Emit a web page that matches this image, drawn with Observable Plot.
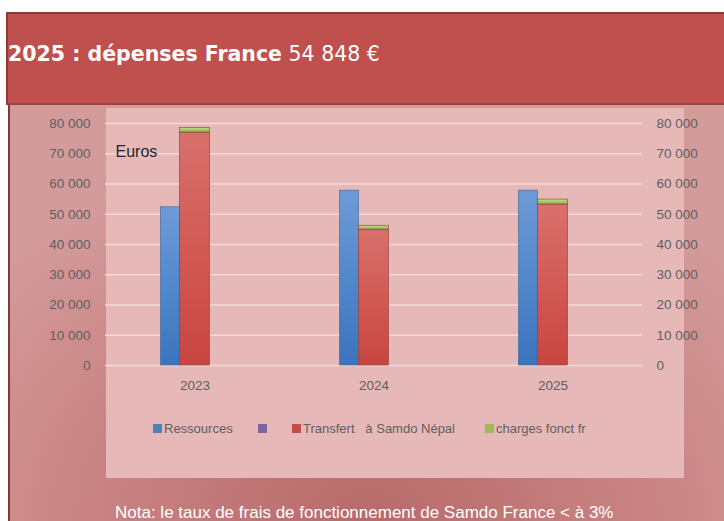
<!DOCTYPE html>
<html>
<head>
<meta charset="utf-8">
<script src="https://cdn.jsdelivr.net/npm/d3@7"></script>
<script src="https://cdn.jsdelivr.net/npm/@observablehq/plot@0.6"></script>
<style>
  html, body { margin: 0; padding: 0; background: #ffffff; }
  #stage { position: relative; width: 724px; height: 521px; overflow: hidden; background: #ffffff; font-family: "Liberation Sans", Arial, sans-serif; }
  #bg { position: absolute; left: 8px; top: 100px; width: 716px; height: 421px;
        border-left: 2px solid #7c3c3c;
        background: radial-gradient(ellipse 70% 90% at 50% 100%, #b86a6a 0%, #c98383 55%, #d49b9b 100%); }
  #header { position: absolute; left: 6px; top: 12px; width: 718px; height: 89px; background: #c0504d;
            border-top: 2px solid #8c3b39; border-left: 2px solid #8c3b39; border-bottom: 2px solid #9e4340; }
  #title { position: absolute; left: 8px; top: 42px; color: #ffffff; font-family: "DejaVu Sans", sans-serif; font-size: 20.5px; white-space: pre; }
  #title b { font-weight: bold; }
  #panel { position: absolute; left: 106px; top: 108px; width: 578px; height: 370px; background: #e6b8b7; }
  #chart { position: absolute; left: 0; top: 103px; }
  #legend { position: absolute; top: 419px; left: 0; width: 724px; height: 20px; font-size: 13px; color: #5f5f5f; }
  .li { position: absolute; top: 0; white-space: pre; line-height: 20px; }
  .sw { position: absolute; top: 5px; width: 9px; height: 9px; }
  #caption { position: absolute; left: 115px; top: 504px; color: #ffffff; font-size: 17px; line-height: 1; white-space: pre; }
</style>
</head>
<body>
<div id="stage">
  <div id="bg"></div>
  <div id="header"></div>
  <div id="title"></div>
  <div id="panel"></div>
  <div id="chart"></div>
  <div id="legend"></div>
  <div id="caption"></div>
</div>
<script>
// ---- data ----
const years = ["2023", "2024", "2025"];
const ressources = [52300, 57800, 57800];
const transfert = [77000, 44900, 53200];
const charges = [1500, 1300, 1648];
const yTicks = [0, 10000, 20000, 30000, 40000, 50000, 60000, 70000, 80000];
const seriesNames = ["Ressources", "", "Transfert   à Samdo Népal", "charges fonct fr"];
const seriesColors = ["#4f81bd", "#8064a2", "#c0504d", "#9bbb59"];
const titleBold = "2025 : dépenses France";
const titleValue = "54 848 €";
const unitLabel = "Euros";
const captionText = "Nota: le taux de frais de fonctionnement de Samdo France < à 3%";

// ---- text ----
document.getElementById("title").innerHTML = "<b>" + titleBold + "</b> " + titleValue;
document.getElementById("caption").textContent = captionText;

// ---- tables ----
const resData = years.map((y, i) => ({year: y, value: ressources[i]}));
const stackData = [];
years.forEach((y, i) => {
  stackData.push({year: y, series: "Transfert", value: transfert[i]});
  stackData.push({year: y, series: "charges", value: charges[i]});
});

const fmt = d => d === 0 ? "0" : d3.format(",")(d).replace(/,/g, " ");

const chart = Plot.plot({
  width: 724,
  height: 292,
  marginLeft: 105,
  marginRight: 82,
  marginTop: 20,
  marginBottom: 30,
  style: {background: "transparent", fontFamily: "Liberation Sans, Arial, sans-serif", fontSize: "13.5px", color: "#5f5f5f"},
  x: {domain: years, padding: 0, label: null},
  y: {domain: [0, 80000], label: null},
  marks: [
    Plot.gridY(yTicks, {stroke: "#f3dada", strokeOpacity: 1, strokeWidth: 1.5}),
    Plot.axisY(yTicks, {anchor: "left", tickSize: 0, tickPadding: 15, tickFormat: fmt, label: null}),
    Plot.axisY(yTicks, {anchor: "right", tickSize: 0, tickPadding: 14, tickFormat: fmt, label: null}),
    Plot.axisX({tickSize: 0, tickPadding: 15, label: null}),
    Plot.barY(resData, {x: "year", y: "value", fill: "url(#gBlue)", insetLeft: 55.5, insetRight: 104.5, stroke: "#3a659a", strokeWidth: 0.6}),
    Plot.barY(stackData, {x: "year", y: "value", fill: d => d.series === "Transfert" ? "url(#gRed)" : "url(#gGreen)", insetLeft: 74.5, insetRight: 74.5, stroke: "#8e3a38", strokeWidth: 0.6}),
    Plot.text([unitLabel], {frameAnchor: "top-left", dx: 10, dy: 22, fontSize: 16, fill: "#262626", textAnchor: "start"})
  ]
});

// gradient defs for bar shading
const ns = "http://www.w3.org/2000/svg";
const defs = document.createElementNS(ns, "defs");
function grad(id, stops) {
  const g = document.createElementNS(ns, "linearGradient");
  g.setAttribute("id", id);
  g.setAttribute("x1", "0"); g.setAttribute("y1", "0");
  g.setAttribute("x2", "0"); g.setAttribute("y2", "1");
  stops.forEach(([o, c]) => {
    const s = document.createElementNS(ns, "stop");
    s.setAttribute("offset", o); s.setAttribute("stop-color", c);
    g.appendChild(s);
  });
  defs.appendChild(g);
}
grad("gBlue", [["0", "#6e9bd6"], ["0.5", "#5288cc"], ["1", "#3b74bd"]]);
grad("gRed", [["0", "#d9706c"], ["0.5", "#d25a55"], ["1", "#c9453f"]]);
grad("gGreen", [["0", "#c6dd8a"], ["1", "#8eb24a"]]);
chart.insertBefore(defs, chart.firstChild);

document.getElementById("chart").appendChild(chart);

// ---- legend ----
const legend = document.getElementById("legend");
const legendX = [153, 258, 292, 485];
seriesNames.forEach((name, i) => {
  const sw = document.createElement("div");
  sw.className = "sw";
  sw.style.left = legendX[i] + "px";
  sw.style.background = seriesColors[i];
  legend.appendChild(sw);
  if (name) {
    const t = document.createElement("div");
    t.className = "li";
    t.style.left = (legendX[i] + 11) + "px";
    t.textContent = name;
    legend.appendChild(t);
  }
});
</script>
</body>
</html>
